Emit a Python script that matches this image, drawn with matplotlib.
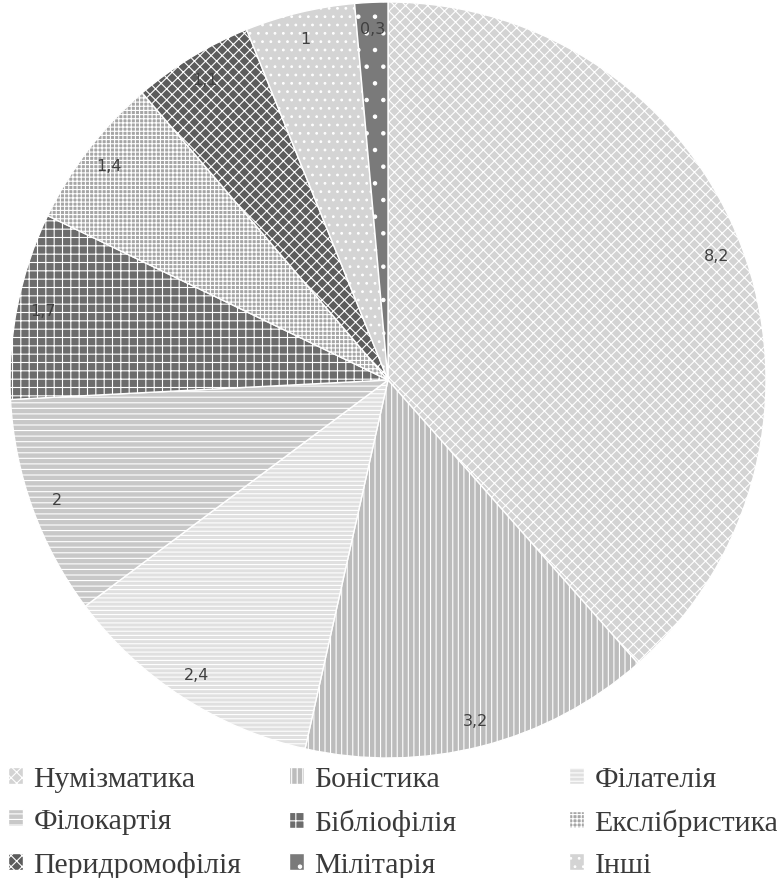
import matplotlib.pyplot as plt
import matplotlib as mpl

# slice order as drawn clockwise from 12 o'clock
categories = ['Нумізматика', 'Боністика', 'Філателія', 'Філокартія', 'Бібліофілія',
              'Екслібристика', 'Перидромофілія', 'Інші', 'Мілітарія']
values = [8.2, 3.2, 2.4, 2, 1.7, 1.4, 1.1, 1, 0.3]
value_labels = ['8,2', '3,2', '2,4', '2', '1,7', '1,4', '1,1', '1', '0,3']

# legend columns (read top to bottom)
legend_columns = [['Нумізматика', 'Філокартія', 'Перидромофілія'],
                  ['Боністика', 'Бібліофілія', 'Мілітарія'],
                  ['Філателія', 'Екслібристика', 'Інші']]
column_x = [8, 289, 569]  # left edge of each legend column, px

faces = ['#d3d3d3', '#bcbcbc', '#e0e0e0', '#c8c8c8', '#6c6c6c',
         '#a6a6a6', '#5c5c5c', '#d4d4d4', '#7a7a7a']
hatches = ['xxx', '|||', '----', '---', '++', '++++', 'xxx', '..', '.']

mpl.rcParams['hatch.linewidth'] = 0.8

W, H = 777, 879
fig = plt.figure(figsize=(W / 100, H / 100), dpi=100)
ax = fig.add_axes([10 / W, 120 / H, 756 / W, 756 / H])

wedges, texts = ax.pie(values, labels=value_labels, startangle=90, counterclock=False,
                       colors=faces, labeldistance=0.93,
                       wedgeprops=dict(edgecolor='white', linewidth=1.0),
                       textprops=dict(fontsize=11.5, color='#404040', family='DejaVu Sans'))
for w, h in zip(wedges, hatches):
    w.set_hatch(h)
for t in texts:
    t.set_ha('center')
    t.set_va('center')
ax.set_xlim(-1, 1)
ax.set_ylim(-1, 1)
ax.axis('off')

by_name = dict(zip(categories, wedges))
for names, x in zip(legend_columns, column_x):
    leg = fig.legend([by_name[n] for n in names], names, ncol=1,
                     loc='upper left', bbox_to_anchor=(x / W, 1 - 767 / H),
                     frameon=False, borderpad=0, borderaxespad=0,
                     handlelength=0.5, handleheight=0.5, handletextpad=0.35,
                     labelspacing=0.55,
                     prop=dict(family='Liberation Serif', size=21.5))
    for t in leg.get_texts():
        t.set_color('#3a3a3a')

fig.savefig('out.png', dpi=100)
